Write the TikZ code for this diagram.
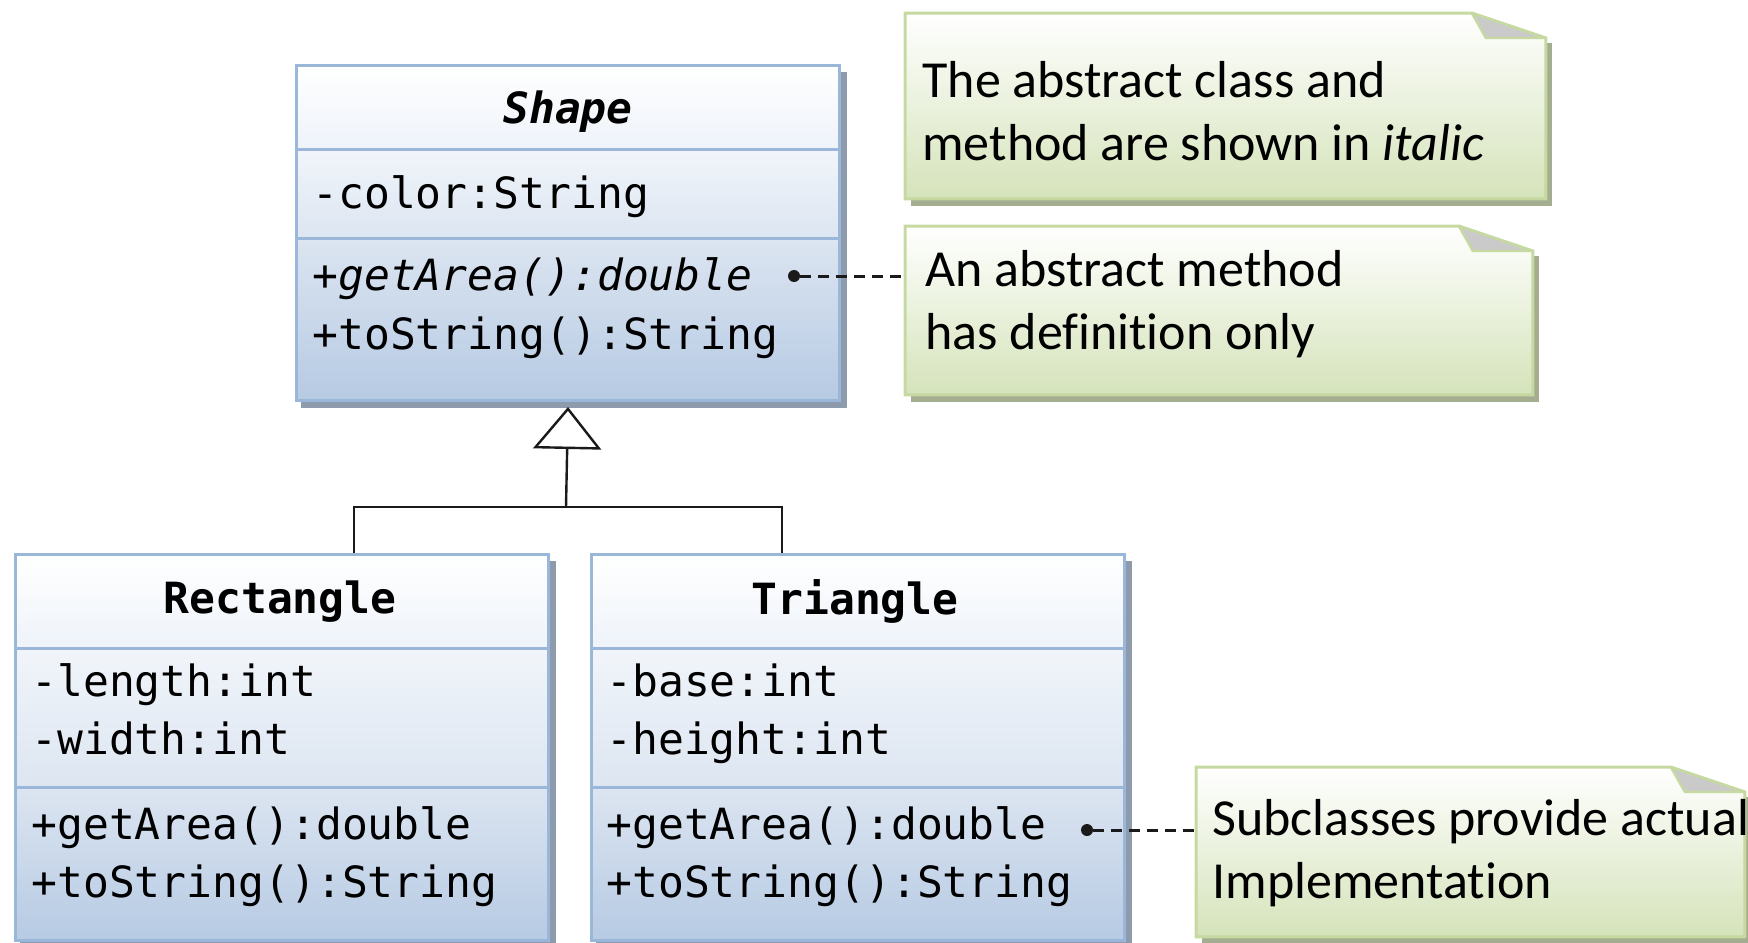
\documentclass[tikz,border=0pt]{standalone}
\usepackage{fontspec}
\setmainfont{Carlito}[Ligatures=NoCommon]
\setmonofont{DejaVu Sans Mono}
\usetikzlibrary{arrows.meta,calc}
\pgfdeclarelayer{background}
\pgfsetlayers{background,main}

\definecolor{umlborder}{HTML}{9AB6D9}
\definecolor{umlhead}{HTML}{EEF3FA}
\definecolor{umlattrtop}{HTML}{F1F5FA}
\definecolor{umlattrbot}{HTML}{DCE5F1}
\definecolor{umlopstop}{HTML}{DCE5F1}
\definecolor{umlopsbot}{HTML}{B6CAE3}
\definecolor{umlshadow}{HTML}{8E9BAC}
\definecolor{noteborder}{HTML}{C6D9A0}
\definecolor{notebot}{HTML}{D5E3BA}
\definecolor{noteshadow}{HTML}{A4AD90}
\definecolor{notefold}{HTML}{CACACA}
\definecolor{inkline}{HTML}{1A1A1A}

\newcommand{\pxu}{0.5pt}

\begin{document}
\begin{tikzpicture}[x=0.5pt,y=-0.5pt,
  compartment/.style={draw=umlborder, line width=1.5pt, rectangle, inner sep=0pt, anchor=north west},
  headbox/.style={compartment, top color=white, bottom color=umlhead},
  attrbox/.style={compartment, top color=umlattrtop, bottom color=umlattrbot},
  opsbox/.style={compartment, top color=umlopstop, bottom color=umlopsbot},
  member/.style={font=\ttfamily\fontsize{21.5}{29}\selectfont, anchor=mid west, inner sep=0pt},
  abstractmember/.style={member, font=\ttfamily\itshape\fontsize{21.5}{29}\selectfont},
  classname/.style={font=\ttfamily\bfseries\fontsize{21.5}{29}\selectfont, inner sep=0pt},
  abstractname/.style={font=\ttfamily\bfseries\itshape\fontsize{21.5}{29}\selectfont, inner sep=0pt},
  noteframe/.style={inner sep=0pt, anchor=north west},
  notetext/.style={font=\fontsize{26}{31.8}\selectfont, align=left, anchor=west, inner sep=0pt},
  noteoutline/.style={draw=noteborder, line width=1.5pt, top color=white, bottom color=notebot},
  attach/.style={circle, fill=inkline, inner sep=0pt, minimum size=6pt},
  noteline/.style={draw=inkline, line width=1.5pt, dash pattern=on 5.5pt off 3.5pt},
  genline/.style={draw=inkline, line width=1.2pt},
]
\useasboundingbox (0,0) rectangle (1748,942);

% ---- class Shape (abstract) ----
\node[headbox, minimum width=543*\pxu, minimum height=84*\pxu] (shapeH) at (295,64) {};
\node[attrbox, minimum width=543*\pxu, minimum height=89*\pxu] (shapeA) at (295,148) {};
\node[opsbox,  minimum width=543*\pxu, minimum height=162*\pxu] (shapeO) at (295,237) {};
\node[abstractname] (shapeN) at ($(shapeH.center)+(0,4)$) {Shape};
\node[member] (shapeA1) at (312,204) {-color:String};
\node[abstractmember] (shapeO1) at (312,286) {+getArea():double};
\node[member] (shapeO2) at (312,345) {+toString():String};

% ---- class Rectangle ----
\node[headbox, minimum width=533*\pxu, minimum height=94*\pxu] (rectH) at (14,553) {};
\node[attrbox, minimum width=533*\pxu, minimum height=139*\pxu] (rectA) at (14,647) {};
\node[opsbox,  minimum width=533*\pxu, minimum height=153*\pxu] (rectO) at (14,786) {};
\node[classname] (rectN) at (280,602) {Rectangle};
\node[member] (rectA1) at (31,692) {-length:int};
\node[member] (rectA2) at (31,750) {-width:int};
\node[member] (rectO1) at (31,835) {+getArea():double};
\node[member] (rectO2) at (31,893) {+toString():String};

% ---- class Triangle ----
\node[headbox, minimum width=533*\pxu, minimum height=94*\pxu] (triH) at (590,553) {};
\node[attrbox, minimum width=533*\pxu, minimum height=139*\pxu] (triA) at (590,647) {};
\node[opsbox,  minimum width=533*\pxu, minimum height=153*\pxu] (triO) at (590,786) {};
\node[classname] (triN) at (855,601) {Triangle};
\node[member] (triA1) at (606,692) {-base:int};
\node[member] (triA2) at (606,750) {-height:int};
\node[member] (triO1) at (606,835) {+getArea():double};
\node[member] (triO2) at (606,893) {+toString():String};

% ---- notes ----
\node[noteframe, minimum width=640*\pxu, minimum height=185*\pxu] (note1) at (905,13) {};
\node[noteframe, minimum width=627*\pxu, minimum height=168*\pxu] (note2) at (905,226) {};
\node[noteframe, minimum width=548*\pxu, minimum height=169*\pxu] (note3) at (1196,767) {};

\foreach \n in {note1,note2,note3}{
  \path[noteoutline] (\n.north west) -- ($(\n.north east)+(-74,0)$)
    -- ($(\n.north east)+(0,25)$) -- (\n.south east) -- (\n.south west) -- cycle;
  \path[fill=notefold, draw=noteborder, line width=1.2pt, line join=round]
    ($(\n.north east)+(-74,0)$) -- ($(\n.north east)+(-60,25)$) -- ($(\n.north east)+(0,25)$) -- cycle;
}

\node[notetext] (note1txt) at (922,111) {The abstract class and\\method are shown in \textit{italic}};
\node[notetext] (note2txt) at (925,304) {An abstract method\\has definition only};
\node[notetext] (note3txt) at (1212,853) {Subclasses provide actual\\Implementation};

% ---- note attachments ----
\node[attach] (dot1) at (794,276) {};
\node[attach] (dot2) at (1087,830) {};
\draw[noteline] (dot1) -- (dot1 -| note2.west);
\draw[noteline] (dot2) -- (dot2 -| note3.west);

% ---- generalization ----
\coordinate (join) at (566,507);
\draw[genline] ($(rectH.north)+(72,0)$) |- (join) -| ($(triH.north)+(-76,0)$);
\draw[genline, -{Triangle[open, length=21pt, width=34pt, line width=1.2pt]}]
  (join) -- ($(shapeO.south)+(0,5)$);

% ---- drop shadows ----
\begin{pgfonlayer}{background}
  \foreach \t/\b in {shapeH/shapeO, rectH/rectO, triH/triO}{
    \fill[umlshadow] ($(\t.north west)+(6,8)$) rectangle ($(\b.south east)+(6,6)$);
  }
  \foreach \n in {note1,note2,note3}{
    \fill[noteshadow] ($(\n.north west)+(6,30)$) rectangle ($(\n.south east)+(6,7)$);
  }
\end{pgfonlayer}
\end{tikzpicture}
\end{document}
